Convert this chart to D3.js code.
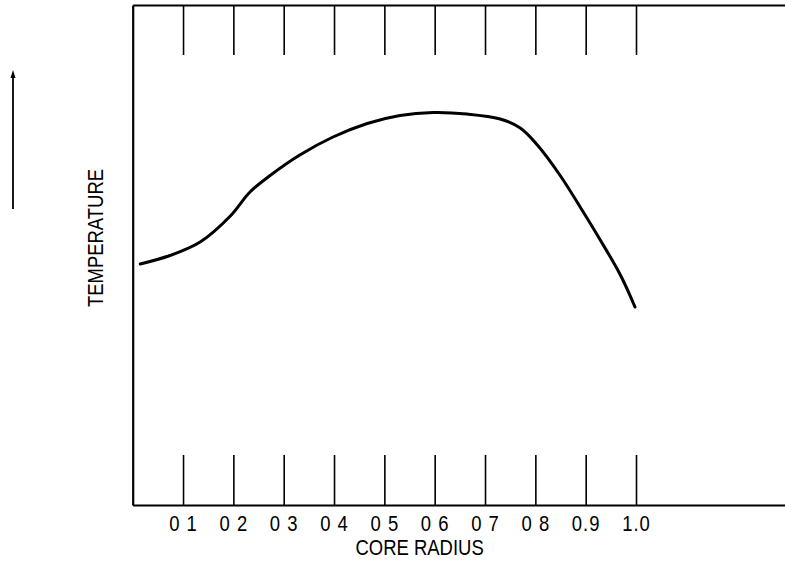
<!DOCTYPE html>
<html>
<head>
<meta charset="utf-8">
<script src="https://cdn.jsdelivr.net/npm/d3@7"></script>
<style>
  html, body { margin: 0; padding: 0; background: #fff; }
  svg { display: block; }
</style>
</head>
<body>
<div id="chart"></div>
<script>
const WIDTH = 785;
const HEIGHT = 564;

// core radius (fraction) and relative temperature
const radius = [0.015, 0.074, 0.134, 0.194, 0.233, 0.273, 0.332, 0.398, 0.466, 0.531,
  0.597, 0.664, 0.730, 0.770, 0.804, 0.850, 0.889, 0.929, 0.969, 0.998];
const temperature = [48.2, 49.9, 52.6, 57.8, 62.6, 65.9, 70.0, 73.6, 76.3, 77.9,
  78.5, 78.2, 77.2, 75.4, 72.0, 65.8, 59.6, 53.0, 46.0, 39.6];
const tickValues = [0.1, 0.2, 0.3, 0.4, 0.5, 0.6, 0.7, 0.8, 0.9, 1.0];
const tickLabels = ["0 1", "0 2", "0 3", "0 4", "0 5", "0 6", "0 7", "0 8", "0.9", "1.0"];

const FONT = "'Liberation Sans', Arial, sans-serif";
const NARROW = 0.84; // the scan uses a condensed face
const INK = "#000";

const points = radius.map((r, i) => ({ r, t: temperature[i] }));

const x = d3.scaleLinear().domain([0, 1.3]).range([132.7, 787]);
const y = d3.scaleLinear().domain([0, 100]).range([505, 5]);

const svg = d3.select("#chart")
  .append("svg")
  .attr("width", WIDTH)
  .attr("height", HEIGHT)
  .attr("viewBox", `0 0 ${WIDTH} ${HEIGHT}`);

// bottom axis: ticks pointing up into the plot
const bottomAxis = d3.axisBottom(x)
  .tickValues(tickValues)
  .tickSizeInner(-50)
  .tickSizeOuter(0)
  .tickPadding(10)
  .tickFormat((d, i) => tickLabels[i]);

svg.append("g")
  .attr("transform", `translate(0,${y(0)})`)
  .call(bottomAxis)
  .call((g) => g.select(".domain").attr("stroke", INK).attr("stroke-width", 2))
  .call((g) => g.selectAll(".tick line").attr("stroke", INK).attr("stroke-width", 1.6))
  .call((g) => g.selectAll(".tick text")
    .attr("fill", INK)
    .attr("font-family", FONT)
    .attr("font-size", 22)
    .attr("letter-spacing", 1.2)
    .attr("transform", `scale(${NARROW},1)`)
    .style("white-space", "pre"));

// top axis: ticks pointing down, no labels
const topAxis = d3.axisTop(x)
  .tickValues(tickValues)
  .tickSizeInner(-50)
  .tickSizeOuter(0)
  .tickFormat("");

svg.append("g")
  .attr("transform", `translate(0,${y(100)})`)
  .call(topAxis)
  .call((g) => g.select(".domain").attr("stroke", INK).attr("stroke-width", 2))
  .call((g) => g.selectAll(".tick line").attr("stroke", INK).attr("stroke-width", 1.6));

// left frame line
svg.append("g")
  .attr("transform", `translate(${x(0)},0)`)
  .call(d3.axisLeft(y).tickValues([]).tickSizeOuter(0))
  .call((g) => g.select(".domain").attr("stroke", INK).attr("stroke-width", 2.2));

// the curve
const line = d3.line()
  .x((d) => x(d.r))
  .y((d) => y(d.t))
  .curve(d3.curveCatmullRom.alpha(0.5));

svg.append("path")
  .datum(points)
  .attr("d", line)
  .attr("fill", "none")
  .attr("stroke", INK)
  .attr("stroke-width", 3)
  .attr("stroke-linecap", "round");

// axis titles
svg.append("text")
  .attr("transform", `translate(${x(0.57)},555) scale(${NARROW},1)`)
  .attr("text-anchor", "middle")
  .attr("font-family", FONT)
  .attr("font-size", 22)
  .attr("fill", INK)
  .text("CORE RADIUS");

svg.append("text")
  .attr("transform", `translate(103,${y(53.4)}) rotate(-90) scale(${NARROW},1)`)
  .attr("text-anchor", "middle")
  .attr("font-family", FONT)
  .attr("font-size", 22)
  .attr("fill", INK)
  .text("TEMPERATURE");

// upward arrow at the far left
const arrowX = 13;
const arrowTop = y(87);
const arrowBottom = y(59.2);
svg.append("line")
  .attr("x1", arrowX).attr("x2", arrowX)
  .attr("y1", arrowBottom).attr("y2", arrowTop + 4)
  .attr("stroke", INK)
  .attr("stroke-width", 1.8);
svg.append("path")
  .attr("d", `M${arrowX},${arrowTop} L${arrowX - 2.5},${arrowTop + 8} L${arrowX + 2.5},${arrowTop + 8} Z`)
  .attr("fill", INK);
</script>
</body>
</html>
